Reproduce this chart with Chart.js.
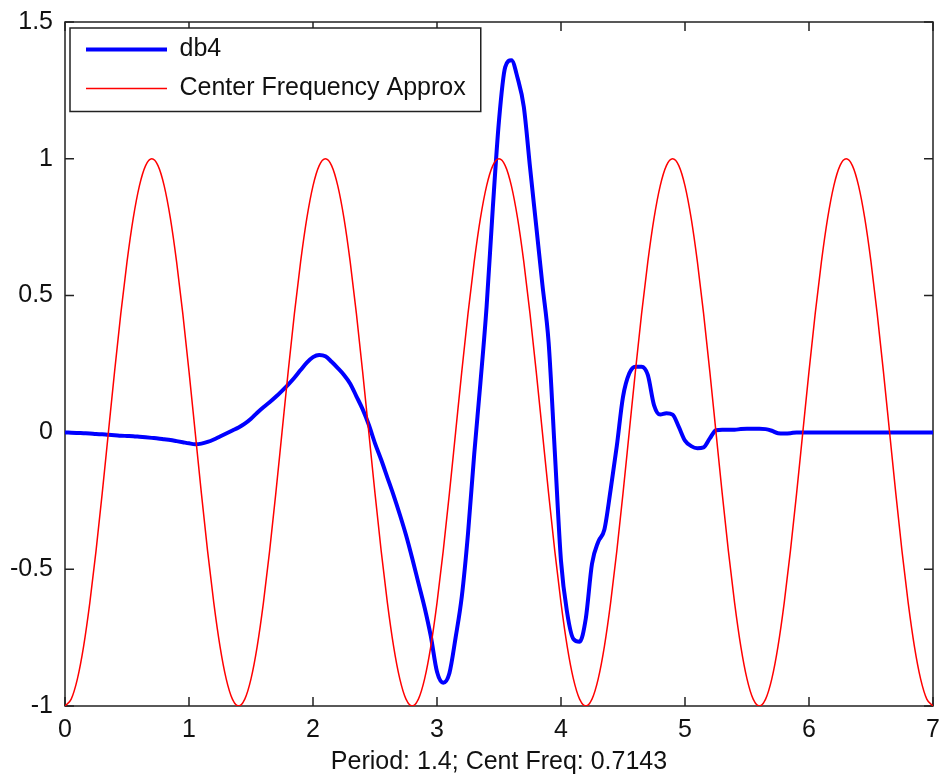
<!DOCTYPE html>
<html><head><meta charset="utf-8">
<script src="https://cdn.jsdelivr.net/npm/chart.js@4.4.1/dist/chart.umd.min.js"></script>
<style>html,body{margin:0;padding:0;background:#fff;}canvas{display:block;}</style>
</head><body>
<canvas id="c" width="943" height="782"></canvas>
<script>
const xValues = [0,0.05,0.1,0.15,0.2,0.25,0.3,0.35,0.4,0.45,0.5,0.55,0.6,0.65,0.7,0.75,0.8,0.85,0.9,0.95,1,1.05,1.1,1.15,1.2,1.25,1.3,1.35,1.4,1.45,1.5,1.55,1.6,1.65,1.7,1.75,1.8,1.85,1.9,1.95,2,2.05,2.1,2.15,2.2,2.25,2.3,2.35,2.4,2.45,2.5,2.55,2.6,2.65,2.7,2.75,2.8,2.85,2.9,2.95,3,3.05,3.1,3.15,3.2,3.25,3.3,3.35,3.4,3.45,3.5,3.55,3.6,3.65,3.7,3.75,3.8,3.85,3.9,3.95,4,4.05,4.1,4.15,4.2,4.25,4.3,4.35,4.4,4.45,4.5,4.55,4.6,4.65,4.7,4.75,4.8,4.85,4.9,4.95,5,5.05,5.1,5.15,5.2,5.25,5.3,5.35,5.4,5.45,5.5,5.55,5.6,5.65,5.7,5.75,5.8,5.85,5.9,5.95,6,6.05,6.1,6.15,6.2,6.25,6.3,6.35,6.4,6.45,6.5,6.55,6.6,6.65,6.7,6.75,6.8,6.85,6.9,6.95,7];

const db4Values = [0,-0.001,-0.002,-0.003,-0.004,-0.006,-0.007,-0.009,-0.01,-0.012,
-0.013,-0.014,-0.016,-0.018,-0.02,-0.022,-0.025,-0.028,-0.032,-0.036,
-0.04,-0.043,-0.041,-0.035,-0.026,-0.015,-0.004,0.007,0.018,0.032,
0.05,0.072,0.092,0.11,0.13,0.152,0.175,0.2,0.228,0.255,
0.275,0.283,0.278,0.258,0.235,0.21,0.178,0.132,0.085,0.028,
-0.04,-0.1,-0.165,-0.23,-0.3,-0.375,-0.46,-0.55,-0.64,-0.745,
-0.875,-0.915,-0.88,-0.75,-0.6,-0.37,-0.08,0.18,0.46,0.82,
1.14,1.335,1.36,1.295,1.19,0.97,0.755,0.54,0.33,-0.07,
-0.47,-0.66,-0.755,-0.765,-0.68,-0.48,-0.4,-0.355,-0.21,-0.05,
0.13,0.215,0.24,0.24,0.21,0.1,0.065,0.07,0.065,0.02,
-0.03,-0.05,-0.058,-0.055,-0.022,0.008,0.01,0.01,0.01,0.012,
0.013,0.013,0.013,0.012,0.006,-0.003,-0.004,-0.003,0,0,
0,0,0,0,0,0,0,0,0,0,
0,0,0,0,0,0,0,0,0,0,0];

const centerFreqValues = [
-1,-0.975,-0.901,-0.782,-0.623,-0.434,-0.223,0,0.223,0.434,0.623,0.782,0.901,0.975,1,0.975,0.901,0.782,0.623,0.434,0.223,0,-0.223,-0.434,-0.623,-0.782,-0.901,-0.975,
-1,-0.975,-0.901,-0.782,-0.623,-0.434,-0.223,0,0.223,0.434,0.623,0.782,0.901,0.975,1,0.975,0.901,0.782,0.623,0.434,0.223,0,-0.223,-0.434,-0.623,-0.782,-0.901,-0.975,
-1,-0.975,-0.901,-0.782,-0.623,-0.434,-0.223,0,0.223,0.434,0.623,0.782,0.901,0.975,1,0.975,0.901,0.782,0.623,0.434,0.223,0,-0.223,-0.434,-0.623,-0.782,-0.901,-0.975,
-1,-0.975,-0.901,-0.782,-0.623,-0.434,-0.223,0,0.223,0.434,0.623,0.782,0.901,0.975,1,0.975,0.901,0.782,0.623,0.434,0.223,0,-0.223,-0.434,-0.623,-0.782,-0.901,-0.975,
-1,-0.975,-0.901,-0.782,-0.623,-0.434,-0.223,0,0.223,0.434,0.623,0.782,0.901,0.975,1,0.975,0.901,0.782,0.623,0.434,0.223,0,-0.223,-0.434,-0.623,-0.782,-0.901,-0.975,
-1];

const xTickValues = [0,1,2,3,4,5,6,7];
const xTickLabels = ['0','1','2','3','4','5','6','7'];
const yTickValues = [-1,-0.5,0,0.5,1,1.5];
const yTickLabels = ['-1','-0.5','0','0.5','1','1.5'];
const seriesNames = ['db4','Center Frequency Approx'];
const xAxisTitle = 'Period: 1.4; Cent Freq: 0.7143';

const FONT = 'Liberation Sans';
const FS = 25;
const TEXT = '#111';
const FRAME = '#222';
const LEG_PAD = 14;
const LEG_LINE = 81;

const toPoints = ys => xValues.map((x, i) => ({x: x, y: ys[i]}));

const axesFrame = {
  id: 'axesFrame',
  afterLayout(chart) {
    const lg = chart.legend, a = chart.chartArea;
    if (lg) { lg.left = a.left + 7; lg.top = a.top + 1; }
  },
  beforeDraw(chart) {
    const {ctx, chartArea: a, scales} = chart;
    ctx.save();
    ctx.strokeStyle = FRAME;
    ctx.lineWidth = 1.5;
    ctx.strokeRect(a.left, a.top, a.right - a.left, a.bottom - a.top);
    const L = 9;
    ctx.beginPath();
    scales.x.ticks.forEach(t => {
      const p = scales.x.getPixelForValue(t.value);
      ctx.moveTo(p, a.bottom); ctx.lineTo(p, a.bottom - L);
      ctx.moveTo(p, a.top); ctx.lineTo(p, a.top + L);
    });
    scales.y.ticks.forEach(t => {
      const p = scales.y.getPixelForValue(t.value);
      ctx.moveTo(a.left, p); ctx.lineTo(a.left + L, p);
      ctx.moveTo(a.right, p); ctx.lineTo(a.right - L, p);
    });
    ctx.stroke();
    const lg = chart.legend;
    if (lg) {
      ctx.font = FS + 'px "' + FONT + '"';
      let maxW = 0;
      seriesNames.forEach(s => { maxW = Math.max(maxW, ctx.measureText(s).width); });
      const left = a.left + 5, top = a.top + 6;
      const right = lg.left + LEG_PAD + LEG_LINE + FS / 2 + maxW + 15;
      const bottom = lg.top + LEG_PAD + FS / 2 + (FS + LEG_PAD) + 23;
      ctx.fillStyle = '#fff';
      ctx.fillRect(left, top, right - left, bottom - top);
      ctx.strokeRect(left, top, right - left, bottom - top);
    }
    ctx.restore();
  }
};

new Chart(document.getElementById('c'), {
  type: 'line',
  data: {
    datasets: [
      {label: seriesNames[0], data: toPoints(db4Values), borderColor: '#0000ff', backgroundColor: '#0000ff',
       borderWidth: 4, pointRadius: 0, cubicInterpolationMode: 'monotone', order: 2},
      {label: seriesNames[1], data: toPoints(centerFreqValues), borderColor: '#ff0000', backgroundColor: '#ff0000',
       borderWidth: 1.5, pointRadius: 0, cubicInterpolationMode: 'monotone', order: 1}
    ]
  },
  options: {
    responsive: false,
    animation: false,
    devicePixelRatio: 1,
    layout: {padding: {top: 22, right: 10, left: 0, bottom: 0}},
    font: {family: FONT, size: FS},
    plugins: {
      tooltip: {enabled: false},
      legend: {
        position: 'chartArea',
        align: 'start',
        labels: {
          font: {family: FONT, size: FS},
          color: TEXT,
          usePointStyle: true,
          pointStyle: 'line',
          pointStyleWidth: LEG_LINE,
          padding: LEG_PAD,
          sort: (a, b) => a.datasetIndex - b.datasetIndex
        }
      }
    },
    scales: {
      x: {
        type: 'linear', min: 0, max: 7,
        grid: {display: false, drawTicks: false},
        border: {display: false},
        afterBuildTicks: s => { s.ticks = xTickValues.map(v => ({value: v})); },
        afterFit: s => { s.height = 76; s.paddingLeft = 0; s.paddingRight = 0; },
        ticks: {font: {family: FONT, size: FS}, color: TEXT, padding: 9, maxRotation: 0, autoSkip: false,
                callback: (v, i) => xTickLabels[i]},
        title: {display: true, text: xAxisTitle, font: {family: FONT, size: FS}, color: TEXT, padding: {top: 0, bottom: 5}}
      },
      y: {
        type: 'linear', min: -1, max: 1.5,
        grid: {display: false, drawTicks: false},
        border: {display: false},
        afterBuildTicks: s => { s.ticks = yTickValues.map(v => ({value: v})); },
        afterFit: s => { s.width = 65; s.paddingTop = 0; s.paddingBottom = 0; },
        ticks: {font: {family: FONT, size: FS}, color: TEXT, padding: 12, autoSkip: false,
                callback: (v, i) => yTickLabels[i]}
      }
    }
  },
  plugins: [axesFrame]
});
</script>
</body></html>
